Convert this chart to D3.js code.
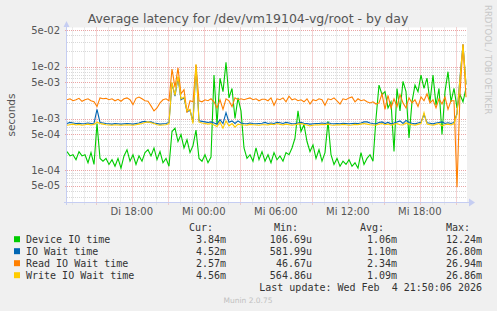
<!DOCTYPE html>
<html>
<head>
<meta charset="utf-8">
<script src="https://cdn.jsdelivr.net/npm/d3@7"></script>
<style>
body { margin: 0; background: #f0f0f0; }
svg { display: block; font-family: "DejaVu Sans", sans-serif; }
.mono { font-family: "DejaVu Sans Mono", monospace; font-size: 10px; fill: #333; }
</style>
</head>
<body>
<svg id="chart" width="497" height="311"></svg>
<script>
// values in milliseconds, one point every 15 minutes starting Di 12:36
var deviceIO = [0.23,0.19,0.2,0.16,0.23,0.19,0.2,0.14,0.22,0.13,0.8,0.17,0.15,0.17,0.13,0.16,0.12,0.17,0.11,0.19,0.25,0.15,0.2,0.13,0.19,0.15,0.22,0.25,0.19,0.27,0.16,0.23,0.14,0.17,
  0.12,0.56,0.65,0.36,0.49,0.27,0.39,0.22,0.3,0.6,0.17,0.15,0.2,0.14,0.18,6.9,0.76,6.0,3.3,12.2,2.5,3.8,1.0,2.5,1.4,0.27,0.17,0.2,0.15,0.27,0.16,0.23,
  0.15,0.2,0.14,0.22,0.16,0.19,0.15,0.22,0.2,0.27,0.42,1.4,0.56,0.76,0.36,0.23,0.31,0.17,0.25,0.15,0.22,0.88,0.2,0.13,0.17,0.12,0.15,0.13,0.16,0.12,0.14,0.11,0.22,0.13,
  0.17,0.2,0.15,1.0,4.4,2.9,3.3,1.6,2.1,0.23,3.8,1.4,5.2,3.3,0.42,2.1,4.4,3.3,6.9,3.8,6.0,2.1,6.9,1.8,3.8,0.49,3.3,8.0,2.1,3.8,1.6,2.9,2.1,3.84];
var ioWait = [0.8,0.84,0.82,0.8,0.81,0.79,0.8,0.82,0.8,0.81,1.5,0.84,0.82,0.8,0.79,0.78,0.8,0.79,0.78,0.79,0.8,0.79,0.78,0.8,0.82,0.86,0.88,0.85,0.86,0.82,0.8,0.78,0.79,0.8,
  0.84,4.8,2.7,6.2,2.3,2.5,1.35,1.45,0.86,10.5,0.9,0.88,0.86,0.84,0.86,0.82,0.78,0.95,0.8,1.3,0.85,0.9,0.8,0.9,0.82,0.8,0.79,0.82,0.8,0.79,0.8,0.81,
  0.84,0.8,0.82,0.8,0.84,0.83,0.8,0.84,0.82,0.79,0.8,0.82,0.84,0.81,0.8,0.78,0.79,0.8,0.8,0.82,0.8,0.83,0.8,0.79,0.8,0.79,0.81,0.8,0.79,0.8,0.81,0.8,0.82,0.86,
  0.86,0.82,0.8,0.79,0.84,0.86,0.8,0.84,0.79,0.82,0.86,0.9,0.8,0.92,0.84,0.81,0.79,0.82,0.85,1.2,0.83,0.81,0.79,0.82,0.84,0.86,0.8,0.83,0.8,0.84,1.25,6.2,26.8,4.52];
var readWait = [2.3,2.4,2.2,2.3,2.45,2.15,2.3,2.4,2.2,2.1,1.7,2.5,2.4,2.45,2.3,2.4,2.2,2.35,2.15,2.4,2.5,2.3,1.85,2.45,2.6,2.4,2.2,2.15,1.75,1.4,1.6,2.0,2.3,2.4,
  2.2,9.0,4.0,9.5,3.0,3.6,1.3,2.2,2.1,11,2.2,2.1,2.3,2.2,2.4,2.1,1.6,2.3,1.5,2.4,2.2,1.7,2.5,2.3,2.4,2.3,2.4,2.5,2.3,2.4,2.2,2.35,
  2.35,2.2,2.5,1.8,2.4,2.3,2.5,2.1,2.7,2.3,2.4,2.2,2.3,2.1,2.4,1.9,2.3,2.2,2.4,2.3,1.8,2.4,2.3,2.5,2.2,1.9,2.4,2.3,2.5,2.6,2.1,2.4,2.2,2.3,
  2.1,2.0,2.1,1.9,2.0,3.0,1.5,2.8,1.6,2.4,1.7,2.9,2.0,1.6,2.5,2.0,2.3,1.7,2.6,2.2,3.0,2.0,2.3,1.6,2.4,1.9,2.6,1.5,2.2,2.2,0.047,3.0,27,2.57];
var writeWait = [0.74,0.76,0.78,0.75,0.77,0.74,0.76,0.78,0.75,0.77,0.85,0.8,0.78,0.76,0.75,0.74,0.76,0.75,0.74,0.75,0.76,0.75,0.74,0.76,0.78,0.8,0.84,0.86,0.83,0.8,0.76,0.74,0.75,0.76,
  0.8,5.0,2.8,6.5,2.4,2.6,1.4,1.5,0.8,11,0.85,0.82,0.8,0.78,0.8,0.75,0.7,0.85,0.65,0.9,0.72,0.8,0.68,0.78,0.76,0.75,0.74,0.77,0.76,0.75,0.74,0.76,
  0.76,0.75,0.78,0.76,0.8,0.77,0.75,0.78,0.76,0.74,0.76,0.78,0.8,0.77,0.75,0.72,0.74,0.76,0.75,0.77,0.76,0.78,0.75,0.74,0.76,0.75,0.77,0.76,0.74,0.75,0.77,0.76,0.78,0.8,
  0.78,0.76,0.75,0.74,0.78,0.8,0.76,0.78,0.74,0.77,0.8,0.76,0.75,0.82,0.78,0.76,0.74,0.77,0.8,1.3,0.78,0.76,0.74,0.77,0.8,0.72,0.76,0.78,0.75,0.8,1.2,6.0,26.8,4.56];

var seriesNames = ["Device IO time", "IO Wait time", "Read IO Wait time", "Write IO Wait time"];
var seriesColors = ["#00cc00", "#0066b3", "#ff8000", "#ffcc00"];
var curVals = ["3.84m", "4.52m", "2.57m", "4.56m"];
var minVals = ["106.69u", "581.99u", "46.67u", "564.86u"];
var avgVals = ["1.06m", "1.10m", "2.34m", "1.09m"];
var maxVals = ["12.24m", "26.80m", "26.94m", "26.86m"];
var yTickVals = [5e-2, 1e-2, 5e-3, 1e-3, 5e-4, 1e-4, 5e-5];
var yTickLabels = ["5e-02", "1e-02", "5e-03", "1e-03", "5e-04", "1e-04", "5e-05"];
var dayNames = ["So", "Mo", "Di", "Mi", "Do", "Fr", "Sa"];

(function() {
var svg = d3.select("#chart");
var plotL = 67, plotR = 467, plotT = 27.5, plotB = 202;

var start = new Date(2026, 1, 3, 12, 36);
var end = d3.timeMinute.offset(start, 2000);
var times = d3.range(deviceIO.length).map(i => d3.timeMinute.offset(start, 15 * i));

var x = d3.scaleTime().domain([start, end]).range([plotL, plotR]);
var y = d3.scaleLog().domain([2.45e-5, 5.7e-2]).range([plotB, plotT]);

// plot background
svg.append("rect").attr("x", plotL).attr("y", plotT).attr("width", plotR - plotL).attr("height", plotB - plotT).attr("fill", "#fff");

// minor horizontal grid
var minorY = [];
[1e-5, 1e-4, 1e-3, 1e-2].forEach(function(dec) {
    [2, 3, 4, 6, 7, 8, 9].forEach(function(m) {
        var v = dec * m;
        if (v > y.domain()[0] && v < y.domain()[1]) minorY.push(v);
    });
});
svg.append("g").selectAll("line").data(minorY).join("line")
    .attr("x1", plotL).attr("x2", plotR)
    .attr("y1", d => Math.round(y(d)) + 0.5).attr("y2", d => Math.round(y(d)) + 0.5)
    .attr("stroke", "#d8d8d8").attr("stroke-dasharray", "1,1");

// vertical grid, every hour; red every 3 hours
var hours = x.ticks(d3.timeHour.every(1));
svg.append("g").selectAll("line").data(hours).join("line")
    .attr("x1", d => Math.round(x(d)) + 0.5).attr("x2", d => Math.round(x(d)) + 0.5)
    .attr("y1", plotT).attr("y2", plotB + 3)
    .attr("stroke", d => d.getHours() % 3 === 0 ? "#eaa5a5" : "#d8d8d8")
    .attr("stroke-dasharray", "1,1");

// major horizontal grid
svg.append("g").selectAll("line").data(yTickVals).join("line")
    .attr("x1", plotL - 2).attr("x2", plotR)
    .attr("y1", d => Math.round(y(d)) + 0.5).attr("y2", d => Math.round(y(d)) + 0.5)
    .attr("stroke", "#eaa5a5").attr("stroke-dasharray", "1,1");

// y labels
svg.append("g").selectAll("text").data(yTickVals).join("text")
    .attr("x", 60).attr("y", d => y(d) + 3.5)
    .attr("text-anchor", "end").attr("font-size", 10).attr("fill", "#555")
    .text((d, i) => yTickLabels[i]);

// x labels
svg.append("g").selectAll("text").data(hours.filter(d => d.getHours() % 6 === 0)).join("text")
    .attr("x", d => x(d)).attr("y", 215)
    .attr("text-anchor", "middle").attr("font-size", 10).attr("fill", "#555")
    .text(d => dayNames[d.getDay()] + " " + d3.timeFormat("%H:%M")(d));

// series
var allSeries = [deviceIO, ioWait, readWait, writeWait];
var line = d3.line()
    .x((d, i) => x(times[i]))
    .y(d => y(d / 1000));
allSeries.forEach(function(s, k) {
    svg.append("path").datum(s)
        .attr("d", line)
        .attr("fill", "none")
        .attr("stroke", seriesColors[k])
        .attr("stroke-width", 1.1);
});

// axes with arrows
var axisColor = "#c5cdf2";
svg.append("line").attr("x1", plotL - 0.5).attr("x2", plotL - 0.5).attr("y1", 24).attr("y2", plotB + 3)
    .attr("stroke", axisColor);
svg.append("path").attr("d", "M63.5,27 L66.5,21 L69.5,27 Z").attr("fill", axisColor);
svg.append("line").attr("x1", plotL - 3).attr("x2", plotR + 4).attr("y1", plotB + 0.5).attr("y2", plotB + 0.5)
    .attr("stroke", axisColor);
svg.append("path").attr("d", "M469,198.5 L475,202.5 L469,206.5 Z").attr("fill", axisColor);

// title
svg.append("text").attr("x", 248).attr("y", 22.5).attr("text-anchor", "middle")
    .attr("font-size", 12.5).attr("fill", "#555")
    .text("Average latency for /dev/vm19104-vg/root - by day");

// y axis title
svg.append("text").attr("transform", "translate(15,115) rotate(-90)")
    .attr("text-anchor", "middle").attr("font-size", 10.5).attr("fill", "#555")
    .text("seconds");

// side credit
svg.append("text").attr("transform", "translate(485,5) rotate(90)")
    .attr("font-size", 8.5).attr("fill", "#c8c8c8")
    .text("RRDTOOL / TOBI OETIKER");

// legend
var legend = svg.append("g");
[["Cur:", 213], ["Min:", 298], ["Avg:", 384], ["Max:", 470]].forEach(function(h) {
    legend.append("text").attr("class", "mono").attr("x", h[1]).attr("y", 231)
        .attr("text-anchor", "end").text(h[0]);
});
seriesNames.forEach(function(name, i) {
    var by = 242.7 + i * 12;
    legend.append("rect").attr("x", 14).attr("y", by - 6.5).attr("width", 6).attr("height", 6)
        .attr("fill", seriesColors[i]);
    legend.append("text").attr("class", "mono").attr("x", 26).attr("y", by).text(name);
    legend.append("text").attr("class", "mono").attr("x", 226).attr("y", by).attr("text-anchor", "end").text(curVals[i]);
    legend.append("text").attr("class", "mono").attr("x", 312).attr("y", by).attr("text-anchor", "end").text(minVals[i]);
    legend.append("text").attr("class", "mono").attr("x", 397).attr("y", by).attr("text-anchor", "end").text(avgVals[i]);
    legend.append("text").attr("class", "mono").attr("x", 482).attr("y", by).attr("text-anchor", "end").text(maxVals[i]);
});
legend.append("text").attr("class", "mono").attr("x", 482).attr("y", 290.5).attr("text-anchor", "end")
    .attr("xml:space", "preserve").style("white-space", "pre")
    .text("Last update: Wed Feb  4 21:50:06 2026");

svg.append("text").attr("x", 248).attr("y", 303).attr("text-anchor", "middle")
    .attr("font-size", 7.5).attr("fill", "#c0c0c0")
    .text("Munin 2.0.75");
})();
</script>
</body>
</html>
